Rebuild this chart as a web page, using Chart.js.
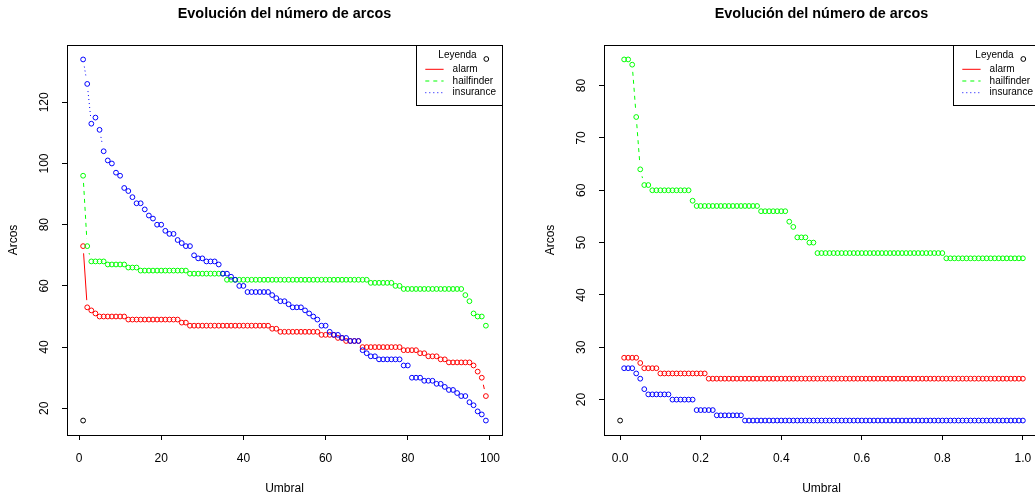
<!DOCTYPE html>
<html>
<head>
<meta charset="utf-8">
<title>Evolución del número de arcos</title>
<script src="https://cdn.jsdelivr.net/npm/chart.js@4.4.1/dist/chart.umd.min.js"></script>
<style>
  html, body { margin: 0; padding: 0; background: #fff; overflow: hidden; }
  #wrap { position: relative; width: 1035px; height: 500px; overflow: hidden; }
  canvas { position: absolute; top: 0; }
  #izq { left: 0; }
  #der { left: 537px; }
</style>
</head>
<body>
<div id="wrap">
  <canvas id="izq" width="518" height="500"></canvas>
  <canvas id="der" width="518" height="500"></canvas>
</div>
<script>
'use strict';

// ---- datos: grafico izquierdo (umbral 1..99) ----
const umbralA = [
   1,  2,  3,  4,  5,  6,  7,  8,  9, 10, 11, 12, 13, 14, 15, 16, 17, 18, 19, 20,
  21, 22, 23, 24, 25, 26, 27, 28, 29, 30, 31, 32, 33, 34, 35, 36, 37, 38, 39, 40,
  41, 42, 43, 44, 45, 46, 47, 48, 49, 50, 51, 52, 53, 54, 55, 56, 57, 58, 59, 60,
  61, 62, 63, 64, 65, 66, 67, 68, 69, 70, 71, 72, 73, 74, 75, 76, 77, 78, 79, 80,
  81, 82, 83, 84, 85, 86, 87, 88, 89, 90, 91, 92, 93, 94, 95, 96, 97, 98, 99
];
const alarmA = [
  73, 53, 52, 51, 50, 50, 50, 50, 50, 50, 50, 49, 49, 49, 49, 49, 49, 49, 49, 49,
  49, 49, 49, 49, 48, 48, 47, 47, 47, 47, 47, 47, 47, 47, 47, 47, 47, 47, 47, 47,
  47, 47, 47, 47, 47, 47, 46, 46, 45, 45, 45, 45, 45, 45, 45, 45, 45, 45, 44, 44,
  44, 44, 43, 43, 42, 42, 42, 42, 40, 40, 40, 40, 40, 40, 40, 40, 40, 40, 39, 39,
  39, 39, 38, 38, 37, 37, 37, 36, 36, 35, 35, 35, 35, 35, 35, 34, 32, 30, 24
];
const hailfinderA = [
  96, 73, 68, 68, 68, 68, 67, 67, 67, 67, 67, 66, 66, 66, 65, 65, 65, 65, 65, 65,
  65, 65, 65, 65, 65, 65, 64, 64, 64, 64, 64, 64, 64, 64, 64, 62, 62, 62, 62, 62,
  62, 62, 62, 62, 62, 62, 62, 62, 62, 62, 62, 62, 62, 62, 62, 62, 62, 62, 62, 62,
  62, 62, 62, 62, 62, 62, 62, 62, 62, 62, 61, 61, 61, 61, 61, 61, 60, 60, 59, 59,
  59, 59, 59, 59, 59, 59, 59, 59, 59, 59, 59, 59, 59, 57, 55, 51, 50, 50, 47
];
const insuranceA = [
  134, 126, 113, 115, 111, 104, 101, 100, 97, 96, 92, 91, 89, 87, 87, 85, 83, 82, 80, 80,
  78, 77, 77, 75, 74, 73, 73, 70, 69, 69, 68, 68, 68, 67, 64, 64, 63, 62, 60, 60,
  58, 58, 58, 58, 58, 58, 57, 56, 55, 55, 54, 53, 53, 53, 52, 51, 50, 49, 47, 47,
  45, 44, 44, 43, 43, 42, 42, 42, 39, 38, 37, 37, 36, 36, 36, 36, 36, 36, 34, 34,
  30, 30, 30, 29, 29, 29, 28, 28, 27, 26, 26, 25, 24, 24, 22, 21, 19, 18, 16
];
const inicioXA = [1];
const inicioYA = [16];
const xTicksA = [0, 20, 40, 60, 80, 100];
const xLabelsA = ['0', '20', '40', '60', '80', '100'];
const yTicksA = [20, 40, 60, 80, 100, 120];
const yLabelsA = ['20', '40', '60', '80', '100', '120'];

// ---- datos: grafico derecho (umbral 0.01..1.00) ----
const umbralB = [
  0.01, 0.02, 0.03, 0.04, 0.05, 0.06, 0.07, 0.08, 0.09, 0.10,
  0.11, 0.12, 0.13, 0.14, 0.15, 0.16, 0.17, 0.18, 0.19, 0.20,
  0.21, 0.22, 0.23, 0.24, 0.25, 0.26, 0.27, 0.28, 0.29, 0.30,
  0.31, 0.32, 0.33, 0.34, 0.35, 0.36, 0.37, 0.38, 0.39, 0.40,
  0.41, 0.42, 0.43, 0.44, 0.45, 0.46, 0.47, 0.48, 0.49, 0.50,
  0.51, 0.52, 0.53, 0.54, 0.55, 0.56, 0.57, 0.58, 0.59, 0.60,
  0.61, 0.62, 0.63, 0.64, 0.65, 0.66, 0.67, 0.68, 0.69, 0.70,
  0.71, 0.72, 0.73, 0.74, 0.75, 0.76, 0.77, 0.78, 0.79, 0.80,
  0.81, 0.82, 0.83, 0.84, 0.85, 0.86, 0.87, 0.88, 0.89, 0.90,
  0.91, 0.92, 0.93, 0.94, 0.95, 0.96, 0.97, 0.98, 0.99, 1.00
];
const alarmB = [
  28, 28, 28, 28, 27, 26, 26, 26, 26, 25, 25, 25, 25, 25, 25, 25, 25, 25, 25, 25,
  25, 24, 24, 24, 24, 24, 24, 24, 24, 24, 24, 24, 24, 24, 24, 24, 24, 24, 24, 24,
  24, 24, 24, 24, 24, 24, 24, 24, 24, 24, 24, 24, 24, 24, 24, 24, 24, 24, 24, 24,
  24, 24, 24, 24, 24, 24, 24, 24, 24, 24, 24, 24, 24, 24, 24, 24, 24, 24, 24, 24,
  24, 24, 24, 24, 24, 24, 24, 24, 24, 24, 24, 24, 24, 24, 24, 24, 24, 24, 24, 24
];
const hailfinderB = [
  85, 85, 84, 74, 64, 61, 61, 60, 60, 60, 60, 60, 60, 60, 60, 60, 60, 58, 57, 57,
  57, 57, 57, 57, 57, 57, 57, 57, 57, 57, 57, 57, 57, 57, 56, 56, 56, 56, 56, 56,
  56, 54, 53, 51, 51, 51, 50, 50, 48, 48, 48, 48, 48, 48, 48, 48, 48, 48, 48, 48,
  48, 48, 48, 48, 48, 48, 48, 48, 48, 48, 48, 48, 48, 48, 48, 48, 48, 48, 48, 48,
  47, 47, 47, 47, 47, 47, 47, 47, 47, 47, 47, 47, 47, 47, 47, 47, 47, 47, 47, 47
];
const insuranceB = [
  26, 26, 26, 25, 24, 22, 21, 21, 21, 21, 21, 21, 20, 20, 20, 20, 20, 20, 18, 18,
  18, 18, 18, 17, 17, 17, 17, 17, 17, 17, 16, 16, 16, 16, 16, 16, 16, 16, 16, 16,
  16, 16, 16, 16, 16, 16, 16, 16, 16, 16, 16, 16, 16, 16, 16, 16, 16, 16, 16, 16,
  16, 16, 16, 16, 16, 16, 16, 16, 16, 16, 16, 16, 16, 16, 16, 16, 16, 16, 16, 16,
  16, 16, 16, 16, 16, 16, 16, 16, 16, 16, 16, 16, 16, 16, 16, 16, 16, 16, 16, 16
];
const inicioXB = [0];
const inicioYB = [16];
const xTicksB = [0, 0.2, 0.4, 0.6, 0.8, 1.0];
const xLabelsB = ['0.0', '0.2', '0.4', '0.6', '0.8', '1.0'];
const yTicksB = [20, 30, 40, 50, 60, 70, 80];
const yLabelsB = ['20', '30', '40', '50', '60', '70', '80'];

const titulo = 'Evolución del número de arcos';
const tituloLeyenda = 'Leyenda';
const FONT = "'Liberation Sans', Arial, Helvetica, sans-serif";

Chart.defaults.font.family = FONT;
Chart.defaults.color = '#000';

// rango como en R: 4% extra a cada lado
function rRange(values) {
    const lo = Math.min(...values);
    const hi = Math.max(...values);
    const pad = (hi - lo) * 0.04;
    return [lo - pad, hi + pad];
}

function serie(label, xs, ys, color, dash, order) {
    return {
        label: label,
        data: xs.map((x, i) => ({ x: x, y: ys[i] })),
        borderColor: color,
        backgroundColor: 'transparent',
        pointBorderColor: color,
        pointBackgroundColor: 'transparent',
        pointRadius: 2.4,
        pointBorderWidth: 1,
        pointStyle: 'circle',
        showLine: false,
        rDash: dash,
        order: order
    };
}

// lineas tipo "b" de R: segmentos recortados alrededor de cada punto
const lineasR = {
    id: 'lineasR',
    afterDatasetsDraw(chart) {
        const ctx = chart.ctx;
        const ca = chart.chartArea;
        const gap = 7.2;
        ctx.save();
        ctx.beginPath();
        ctx.rect(ca.left, ca.top, ca.right - ca.left, ca.bottom - ca.top);
        ctx.clip();
        chart.data.datasets.forEach((ds, i) => {
            if (!ds.rDash) return;
            const pts = chart.getDatasetMeta(i).data;
            ctx.strokeStyle = ds.borderColor;
            ctx.lineWidth = 1;
            ctx.setLineDash(ds.rDash);
            for (let k = 1; k < pts.length; k++) {
                const a = pts[k - 1], b = pts[k];
                const dx = b.x - a.x, dy = b.y - a.y;
                const d = Math.hypot(dx, dy);
                if (d <= 2 * gap) continue;
                const f = gap / d;
                ctx.beginPath();
                ctx.moveTo(a.x + f * dx, a.y + f * dy);
                ctx.lineTo(b.x - f * dx, b.y - f * dy);
                ctx.stroke();
            }
        });
        ctx.restore();
    }
};

// caja, etiquetas giradas del eje y y leyenda
const marcoR = {
    id: 'marcoR',
    afterDraw(chart) {
        const ctx = chart.ctx;
        const ca = chart.chartArea;
        const yScale = chart.scales.y;
        ctx.save();
        ctx.strokeStyle = '#000';
        ctx.lineWidth = 1;
        ctx.setLineDash([]);
        ctx.strokeRect(Math.round(ca.left) + 0.5, Math.round(ca.top) + 0.5,
            Math.round(ca.right - ca.left), Math.round(ca.bottom - ca.top));

        // etiquetas del eje y, verticales como en R
        ctx.fillStyle = '#000';
        ctx.font = '12px ' + FONT;
        ctx.textAlign = 'center';
        ctx.textBaseline = 'middle';
        yScale.ticks.forEach(t => {
            const py = yScale.getPixelForValue(t.value);
            ctx.save();
            ctx.translate(ca.left - 22.5, py);
            ctx.rotate(-Math.PI / 2);
            ctx.fillText(t.label, 0, 0);
            ctx.restore();
        });

        // leyenda
        const w = 86, h = 60;
        const x0 = Math.round(ca.right - w), y0 = Math.round(ca.top);
        ctx.fillStyle = '#fff';
        ctx.fillRect(x0, y0, w, h);
        ctx.strokeRect(x0 + 0.5, y0 + 0.5, w, h);
        ctx.fillStyle = '#000';
        ctx.font = '10px ' + FONT;
        ctx.textAlign = 'center';
        ctx.fillText(tituloLeyenda, ca.right - 44.5, y0 + 10);
        ctx.beginPath();
        ctx.arc(ca.right - 15.7, y0 + 14, 2.4, 0, Math.PI * 2);
        ctx.stroke();
        ctx.textAlign = 'left';
        let k = 0;
        chart.data.datasets.forEach(ds => {
            if (!ds.rDash) return;
            const y = y0 + 24.3 + k * 11.7;
            ctx.strokeStyle = ds.borderColor;
            ctx.setLineDash(ds.rDash);
            ctx.beginPath();
            ctx.moveTo(ca.right - 76.7, y);
            ctx.lineTo(ca.right - 58.4, y);
            ctx.stroke();
            ctx.fillStyle = '#000';
            ctx.fillText(ds.label, ca.right - 49.4, y);
            k++;
        });
        ctx.restore();
    }
};

function crearGrafico(id, xs, alarm, hailfinder, insurance, inicioX, inicioY,
                      xTicks, xLabels, yTicks, yLabels) {
    const xr = rRange(xs.concat(inicioX));
    const yr = rRange(alarm.concat(hailfinder, insurance, inicioY));
    const ejeComun = {
        type: 'linear',
        grid: { display: true, drawOnChartArea: false, drawTicks: true, tickLength: 5, color: '#000', lineWidth: 1 },
        border: { display: true, color: '#000', width: 1 }
    };

    return new Chart(document.getElementById(id), {
        type: 'scatter',
        data: {
            datasets: [
                serie('inicio', inicioX, inicioY, '#000000', null, 3),
                serie('alarm', xs, alarm, '#FF0000', [], 2),
                serie('hailfinder', xs, hailfinder, '#00FF00', [4, 4], 1),
                serie('insurance', xs, insurance, '#0000FF', [1, 3], 0)
            ]
        },
        options: {
            responsive: false,
            devicePixelRatio: 1,
            animation: false,
            events: [],
            layout: { padding: { left: 0, right: 16, top: 0, bottom: 0 } },
            plugins: {
                legend: { display: false },
                tooltip: { enabled: false },
                title: {
                    display: true,
                    text: titulo,
                    fullSize: false,
                    color: '#000',
                    font: { size: 14.4, weight: 'bold', lineHeight: 1.2 },
                    padding: { top: 5.4, bottom: 22.32 }
                }
            },
            scales: {
                x: Object.assign({}, ejeComun, {
                    position: 'bottom',
                    min: xr[0],
                    max: xr[1],
                    afterBuildTicks: s => { s.ticks = xTicks.map(v => ({ value: v })); },
                    afterFit: s => { s.height = 65; },
                    ticks: {
                        autoSkip: false, maxRotation: 0, minRotation: 0,
                        padding: 11.8,
                        font: { size: 12, lineHeight: 1.2 },
                        callback: (v, i) => xLabels[i]
                    },
                    title: {
                        display: true, text: 'Umbral',
                        font: { size: 12, lineHeight: 1.2 },
                        padding: { top: 0, bottom: 3.8 }
                    }
                }),
                y: Object.assign({}, ejeComun, {
                    position: 'left',
                    min: yr[0],
                    max: yr[1],
                    afterBuildTicks: s => { s.ticks = yTicks.map(v => ({ value: v })); },
                    afterFit: s => { s.width = 67; },
                    ticks: {
                        display: false,
                        callback: (v, i) => yLabels[i]
                    },
                    title: {
                        display: true, text: 'Arcos',
                        font: { size: 12, lineHeight: 1.2 },
                        padding: { top: 6.5, bottom: 0 }
                    }
                })
            }
        },
        plugins: [lineasR, marcoR]
    });
}

crearGrafico('izq', umbralA, alarmA, hailfinderA, insuranceA, inicioXA, inicioYA,
    xTicksA, xLabelsA, yTicksA, yLabelsA);
crearGrafico('der', umbralB, alarmB, hailfinderB, insuranceB, inicioXB, inicioYB,
    xTicksB, xLabelsB, yTicksB, yLabelsB);
</script>
</body>
</html>
